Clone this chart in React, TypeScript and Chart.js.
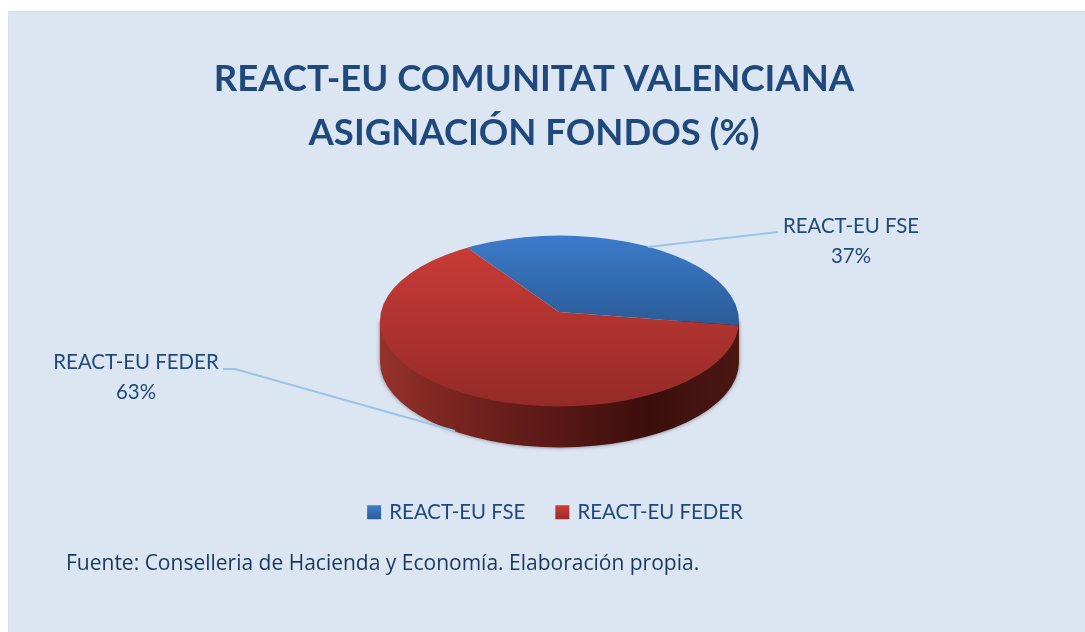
import React, { useEffect, useRef } from "react";
import { Chart, registerables } from "chart.js";

Chart.register(...registerables);

const categories = ["REACT-EU FSE", "REACT-EU FEDER"];
const shares = [37, 63];
const titleLines = ["REACT-EU COMUNITAT VALENCIANA", "ASIGNACIÓN FONDOS (%)"];
const sourceNote = "Fuente: Conselleria de Hacienda y Economía. Elaboración propia.";

const INK = "#1f497d";
const TEXT_FONT = "Lato";
const SQUASH = 0.48;
const VERTEX = { x: 559, y: 312 };
const RIM = { cx: 559.5, cy: 321, rx: 179.5, ry: 85.5, depth: 41 };
const SLICE_STOPS = [["#3c7bca", "#2b5b97"], ["#cc3d38", "#942a27"]];

function scaleFor(chart: any) {
  const a = chart.chartArea;
  const r = Math.min(a.right - a.left, a.bottom - a.top) / 2;
  return { k: 215 / r, cx: (a.left + a.right) / 2, cy: (a.top + a.bottom) / 2 };
}

function sliceFill(context: any) {
  const chart = context.chart;
  const i = context.dataIndex;
  const stops = SLICE_STOPS[i];
  if (!chart.chartArea) return stops[0];
  const { k, cy } = scaleFor(chart);
  const toLocal = (sy: number) => cy + (sy - VERTEX.y) / (k * SQUASH);
  const g = chart.ctx.createLinearGradient(0, toLocal(236), 0, toLocal(i === 0 ? 326 : 407));
  g.addColorStop(0, stops[0]);
  g.addColorStop(1, stops[1]);
  return g;
}

const stage = {
  id: "stage",
  afterLayout(chart: any) {
    const shift = (box: any, left: number, top: number) => {
      const w = box.right - box.left;
      const h = box.bottom - box.top;
      box.left = left;
      box.right = left + w;
      box.top = top;
      box.bottom = top + h;
    };
    if (chart.titleBlock) shift(chart.titleBlock, 534 - chart.titleBlock.width / 2, 51.5);
    if (chart.legend) shift(chart.legend, 556 - chart.legend.width / 2, 470);
  },
  beforeDraw(chart: any) {
    const { ctx } = chart;
    ctx.save();
    ctx.fillStyle = "#dce6f2";
    ctx.fillRect(8, 11, 1077, 621);
    ctx.fillStyle = "#d5e2f1";
    ctx.fillRect(8, 11, 1077, 1);
    ctx.fillRect(8, 11, 1, 621);
    ctx.restore();
  },
  beforeDatasetsDraw(chart: any) {
    const { ctx } = chart;
    // wall of the disc
    const { cx, cy, rx, ry, depth } = RIM;
    ctx.save();
    const wall = ctx.createLinearGradient(cx - rx, 0, cx + rx, 0);
    wall.addColorStop(0, "#96312c");
    wall.addColorStop(0.15, "#802823");
    wall.addColorStop(0.35, "#681e1b");
    wall.addColorStop(0.55, "#521613");
    wall.addColorStop(0.75, "#3b0e0b");
    wall.addColorStop(0.95, "#481612");
    wall.addColorStop(1, "#4a1713");
    ctx.shadowColor = "rgba(40,40,40,0.55)";
    ctx.shadowBlur = 4;
    ctx.fillStyle = wall;
    ctx.beginPath();
    ctx.ellipse(cx, cy + depth, rx, ry, 0, 0, Math.PI);
    ctx.lineTo(cx - rx, cy);
    ctx.lineTo(cx + rx, cy);
    ctx.closePath();
    ctx.fill();
    ctx.restore();

    // top face: the library's arcs, squashed and cut to the rim
    const s = scaleFor(chart);
    ctx.save();
    ctx.beginPath();
    ctx.ellipse(cx, cy, rx, ry, 0, 0, Math.PI * 2);
    ctx.clip();
    ctx.translate(VERTEX.x, VERTEX.y);
    ctx.scale(s.k, s.k * SQUASH);
    ctx.translate(-s.cx, -s.cy);
  },
  afterDatasetsDraw(chart: any) {
    const { ctx } = chart;
    ctx.restore();

    // leader lines
    ctx.save();
    ctx.strokeStyle = "#9dc3e8";
    ctx.lineWidth = 2;
    ctx.beginPath();
    ctx.moveTo(648, 247);
    ctx.lineTo(778, 232);
    ctx.stroke();
    ctx.beginPath();
    ctx.moveTo(223, 369);
    ctx.lineTo(235, 369);
    ctx.lineTo(455, 431);
    ctx.stroke();
    ctx.restore();

    ctx.save();
    ctx.fillStyle = INK;
    ctx.textAlign = "center";
    ctx.textBaseline = "middle";
    ctx.font = `20.4px ${TEXT_FONT}`;
    ctx.fillText(categories[0], 851, 226);
    ctx.fillText(`${shares[0]}%`, 851, 256);
    ctx.fillText(categories[1], 136, 362);
    ctx.fillText(`${shares[1]}%`, 136, 392);
    ctx.textAlign = "left";
    ctx.fillStyle = "#17375e";
    ctx.font = `21px "Open Sans"`;
    ctx.fillText(sourceNote, 66, 564);
    ctx.restore();
  },
};

export default function App() {
  const ref = useRef<HTMLCanvasElement>(null);
  useEffect(() => {
    const chart = new Chart(ref.current as HTMLCanvasElement, {
      type: "pie",
      data: {
        labels: categories,
        datasets: [
          {
            data: shares,
            backgroundColor: sliceFill,
            borderWidth: 0,
            clip: false,
          } as any,
        ],
      },
      options: {
        responsive: false,
        animation: false,
        rotation: -34.4,
        layout: { padding: 0 },
        events: [],
        plugins: {
          tooltip: { enabled: false },
          title: {
            display: true,
            text: titleLines,
            color: INK,
            font: { family: TEXT_FONT, size: 36.5, weight: "bold", lineHeight: 1.5 },
            padding: 0,
          },
          legend: {
            position: "bottom",
            labels: {
              color: INK,
              font: { family: TEXT_FONT, size: 20.4 },
              boxWidth: 10,
              boxHeight: 10,
              padding: 32,
              generateLabels(chart: any) {
                const base = (Chart as any).overrides.pie.plugins.legend.labels.generateLabels(chart);
                return base.map((item: any, i: number) => {
                  const g = chart.ctx.createLinearGradient(0, 506, 0, 520);
                  g.addColorStop(0, SLICE_STOPS[i][0]);
                  g.addColorStop(1, SLICE_STOPS[i][1]);
                  return { ...item, fillStyle: g, strokeStyle: g, lineWidth: 4 };
                });
              },
            },
          },
        },
      } as any,
      plugins: [stage],
    });
    return () => chart.destroy();
  }, []);
  return (
    <div style={{ position: "absolute", left: 0, top: 0, width: 1085, height: 632, overflow: "hidden" }}>
      <canvas ref={ref} width={1085} height={632} style={{ display: "block" }} />
    </div>
  );
}
